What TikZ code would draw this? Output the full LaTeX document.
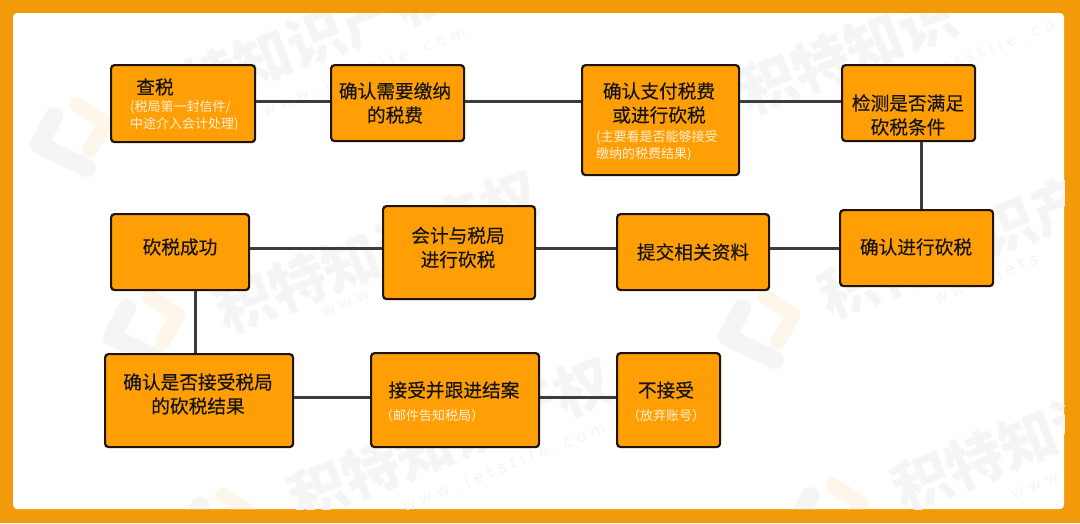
\documentclass[tikz,border=0pt]{standalone}
\usepackage{fontspec}
\setmainfont{Noto Sans CJK SC}
\newfontfamily\boldish[FakeBold=0.25]{Noto Sans CJK SC}
\newfontfamily\latinwm{DejaVu Sans}
\definecolor{frameor}{HTML}{F39A0A}
\definecolor{boxor}{HTML}{FF9F05}
\definecolor{boxline}{HTML}{1E1408}
\definecolor{conn}{HTML}{3C3C3C}
\definecolor{subtxt}{HTML}{FFEFD6}
\definecolor{wmgrey}{HTML}{F5F5F5}
\definecolor{wmor}{HTML}{FEF6EA}
\tikzset{
  box/.style={draw=boxline,line width=2.2pt,fill=boxor,rounded corners=3.5pt,inner sep=0pt,anchor=north west},
  mainline/.style={inner sep=0pt,font=\boldish\fontsize{18.7}{24}\selectfont,text=black!92,align=center},
  subline/.style={inner sep=0pt,font=\fontsize{13}{17.5}\selectfont,text=subtxt,align=left},
  link/.style={draw=conn,line width=3pt},
  wmtext/.style={inner sep=0pt,rotate=21.5,anchor=west,text=wmgrey,font=\fontsize{57}{57}\selectfont\bfseries},
  wmurl/.style={inner sep=0pt,rotate=21.5,anchor=west,text=wmgrey,font=\latinwm\fontsize{16}{16}\selectfont},
  wmlogo/.pic={
    \draw[wmgrey,line width=18pt,line join=round,line cap=round] (15,-29)--(0,0)--(48,23);
    \draw[wmor,line width=15pt,line join=round,line cap=round] (38,-40)--(66,-22)--(51,5);
  }
}
\begin{document}
\begin{tikzpicture}[x=1pt,y=-1pt]
\useasboundingbox (0,0) rectangle (1080,523);
\fill[frameor] (0,0) rectangle (1080,523);
\begin{scope}
\path[clip,rounded corners=4pt] (13,13) rectangle (1064,509);
\fill[white] (0,0) rectangle (1080,523);
% watermarks
\foreach \x/\y in {39/145,112/337,727/337,185/535,795/525}{\pic at (\x,\y) {wmlogo};}
\node[wmtext] (w1) at (130,111) {积特知识产权};
\node[wmtext] (w2) at (741,95) {积特知识};
\node[wmtext] (w3) at (218,315) {积特知识产权};
\node[wmtext] (w4) at (821,300) {积特知识产};
\node[wmtext] (w5) at (291,502) {积特知识产权};
\node[wmtext] (w6) at (895,492) {积特知识};
\node[wmurl] (u1) at (263,112) {w w w . j e t s t i l e . c o m};
\node[wmurl] (u2) at (871,97) {w w w . j e t s t i l e . c o};
\node[wmurl] (u3) at (323,312) {w w w . j e t s t i l e . c o m};
\node[wmurl] (u4) at (935,300) {w w w . j e t s};
\node[wmurl] (u5) at (403,508) {w w w . j e t s t i l e . c o m};
\node[wmurl] (u6) at (1012,495) {w w w};
\end{scope}
% boxes
\node[box,minimum width=144pt,minimum height=77pt] (a) at (110,64) {};
\node[box,minimum width=133pt,minimum height=76pt] (b) at (330,64) {};
\node[box,minimum width=157pt,minimum height=110pt] (c) at (581,64) {};
\node[box,minimum width=133pt,minimum height=76pt] (d) at (841,64) {};
\node[box,minimum width=153pt,minimum height=76pt] (e) at (839,209) {};
\node[box,minimum width=152pt,minimum height=76pt] (f) at (616,213) {};
\node[box,minimum width=152pt,minimum height=93pt] (g) at (382,205) {};
\node[box,minimum width=138pt,minimum height=76pt] (h) at (110,213) {};
\node[box,minimum width=188pt,minimum height=93pt] (i) at (104,353) {};
\node[box,minimum width=168pt,minimum height=94pt] (j) at (370,352) {};
\node[box,minimum width=103pt,minimum height=94pt] (k) at (616,352) {};
% connector rails
\coordinate (r1) at (0,101);
\coordinate (r2) at (0,248);
\coordinate (r3) at (0,397);
\coordinate (r4) at (921,0);
\coordinate (r5) at (195,0);
\draw[link] (a.east |- r1) -- (b.west |- r1);
\draw[link] (b.east |- r1) -- (c.west |- r1);
\draw[link] (c.east |- r1) -- (d.west |- r1);
\draw[link] (d.south -| r4) -- (e.north -| r4);
\draw[link] (e.west |- r2) -- (f.east |- r2);
\draw[link] (f.west |- r2) -- (g.east |- r2);
\draw[link] (g.west |- r2) -- (h.east |- r2);
\draw[link] (h.south -| r5) -- (i.north -| r5);
\draw[link] (i.east |- r3) -- (j.west |- r3);
\draw[link] (j.east |- r3) -- (k.west |- r3);
% texts
\node[mainline] (ta) at (155,87) {查税};
\node[subline,anchor=west] (sa) at (130,116) {(税局第一封信件/\\中途介入会计处理)};
\node[mainline] (tb) at (395,103) {确认需要缴纳\\的税费};
\node[mainline] (tc) at (659,103) {确认支付税费\\或进行砍税};
\node[subline,anchor=west] (sc) at (596,146) {(主要看是否能够接受\\缴纳的税费结果)};
\node[mainline] (td) at (908,115) {检测是否满足\\砍税条件};
\node[mainline] (te) at (916,247) {确认进行砍税};
\node[mainline] (tf) at (693,252) {提交相关资料};
\node[mainline] (tg) at (458,247.5) {会计与税局\\进行砍税};
\node[mainline] (th) at (180,247) {砍税成功};
\node[mainline] (ti) at (198,394) {确认是否接受税局\\的砍税结果};
\node[mainline] (tj) at (454,390) {接受并跟进结案};
\node[subline] (sj) at (432,415.5) {（邮件告知税局）};
\node[mainline] (tk) at (666,390) {不接受};
\node[subline] (sk) at (666,416) {（放弃账号）};
\end{tikzpicture}
\end{document}
